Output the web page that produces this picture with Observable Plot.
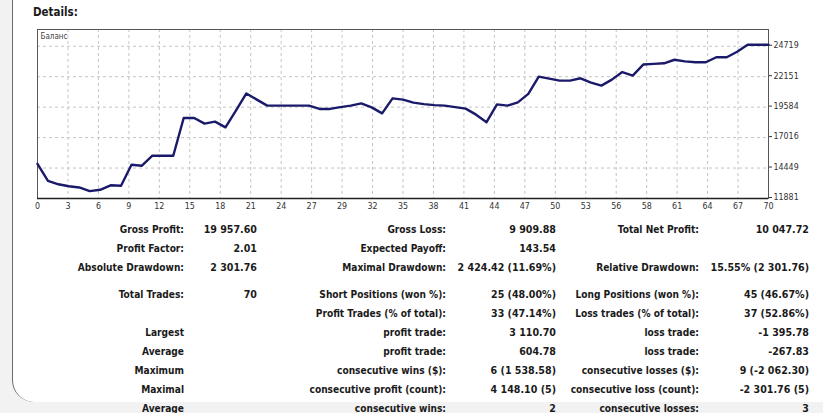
<!DOCTYPE html>
<html>
<head>
<meta charset="utf-8">
<script src="https://cdn.jsdelivr.net/npm/d3@7"></script>
<script src="https://cdn.jsdelivr.net/npm/@observablehq/plot@0.6"></script>
<style>
  html, body { margin: 0; padding: 0; }
  body { width: 823px; height: 413px; background: #f2f2f2; position: relative; overflow: hidden;
         font-family: "DejaVu Sans Condensed", "DejaVu Sans", sans-serif; color: #1a1a1a; }
  #card { position: absolute; left: 12px; top: -20px; width: 830px; height: 422px; background: #fff;
          border-left: 1px solid #6a6a6a; border-bottom-left-radius: 22px; }
  #title { position: absolute; left: 33px; top: 5px; font-weight: bold; font-size: 11.5px; }
  #chart { position: absolute; left: 0; top: 0; }
  .cell { position: absolute; font-weight: bold; font-size: 10.1px; white-space: nowrap; text-align: right;
          transform: translateY(-50%); }
  .cell.val { font-size: 10.6px; }
</style>
</head>
<body>
<div id="card"></div>
<div id="title">Details:</div>
<div id="chart"></div>
<div id="table"></div>
<script>
// ---- data ----
const seriesName = "Баланс";
const balance = [
  14802, 13376, 13080, 12911, 12810, 12500, 12616, 12996, 12954, 14727,
  14643, 15487, 15487, 15487, 18672, 18672, 18190, 18359, 17878, 19288,
  20739, 20217, 19710, 19710, 19710, 19710, 19710, 19432, 19432, 19584,
  19710, 19905, 19567, 19060, 20327, 20217, 19964, 19837, 19753, 19710,
  19584, 19457, 18950, 18315, 19820, 19710, 19989, 20699, 22160, 21991,
  21822, 21822, 22016, 21653, 21400, 21906, 22540, 22244, 23173, 23232,
  23283, 23579, 23444, 23368, 23368, 23790, 23790, 24254, 24850, 24850,
  24850
];
const xTickLabels = ["0","3","6","9","12","15","18","21","24","27","29","32","35","38","41","44","47","50","53","56","58","61","64","67","70"];
const yTickValues = [11881, 14449, 17016, 19584, 22151, 24719];

const col1Labels = ["Gross Profit:", "Profit Factor:", "Absolute Drawdown:", "Total Trades:", "", "Largest", "Average", "Maximum", "Maximal", "Average"];
const col1Values = ["19 957.60", "2.01", "2 301.76", "70", "", "", "", "", "", ""];
const col2Labels = ["Gross Loss:", "Expected Payoff:", "Maximal Drawdown:", "Short Positions (won %):", "Profit Trades (% of total):", "profit trade:", "profit trade:", "consecutive wins ($):", "consecutive profit (count):", "consecutive wins:"];
const col2Values = ["9 909.88", "143.54", "2 424.42 (11.69%)", "25 (48.00%)", "33 (47.14%)", "3 110.70", "604.78", "6 (1 538.58)", "4 148.10 (5)", "2"];
const col3Labels = ["Total Net Profit:", "", "Relative Drawdown:", "Long Positions (won %):", "Loss trades (% of total):", "loss trade:", "loss trade:", "consecutive losses ($):", "consecutive loss (count):", "consecutive losses:"];
const col3Values = ["10 047.72", "", "15.55% (2 301.76)", "45 (46.67%)", "37 (52.86%)", "-1 395.78", "-267.83", "9 (-2 062.30)", "-2 301.76 (5)", "3"];

// ---- chart ----
const nMax = balance.length - 1;
const xTickPos = xTickLabels.map((_, i) => i * nMax / (xTickLabels.length - 1));
const xLabelAt = new Map(xTickPos.map((p, i) => [p, xTickLabels[i]]));
const pts = balance.map((v, i) => ({i, v}));

const chart = Plot.plot({
  width: 823,
  height: 215,
  marginLeft: 37,
  marginRight: 55,
  marginTop: 29,
  marginBottom: 17,
  style: {fontFamily: "'DejaVu Sans Condensed', 'DejaVu Sans', sans-serif", background: "transparent", color: "#333"},
  x: {domain: [0, nMax]},
  y: {domain: [11881, 26130]},
  marks: [
    Plot.gridX(xTickPos, {stroke: "#c4c4c4", strokeOpacity: 1, strokeDasharray: "3,3"}),
    Plot.gridY(yTickValues, {stroke: "#c4c4c4", strokeOpacity: 1, strokeDasharray: "3,3"}),
    Plot.frame({stroke: "#555", strokeWidth: 1}),
    Plot.ruleY([11881], {stroke: "#222", strokeWidth: 1.5}),
    Plot.axisX(xTickPos, {tickSize: 0, tickPadding: 4, fontSize: 8.8, tickFormat: d => xLabelAt.get(d), label: null}),
    Plot.axisY(yTickValues, {anchor: "right", tickSize: 3, tickPadding: 2, fontSize: 8.8, label: null, tickFormat: d => String(d), dy: -1}),
    Plot.line(pts, {x: "i", y: "v", stroke: "#1b1a6a", strokeWidth: 2.4, strokeLinejoin: "round"}),
    Plot.text([seriesName], {frameAnchor: "top-left", dx: 3, dy: 4, fontSize: 8, fill: "#444", textAnchor: "start", lineAnchor: "top"})
  ]
});
document.getElementById("chart").append(chart);

// ---- table ----
const rowY = [229, 248, 267, 294, 313, 332, 351, 370, 389, 408];
const cols = [
  [col1Labels, 184, false], [col1Values, 257, true],
  [col2Labels, 446, false], [col2Values, 556, true],
  [col3Labels, 699, false], [col3Values, 809, true]
];
const table = document.getElementById("table");
cols.forEach(([texts, right, isVal]) => {
  texts.forEach((t, r) => {
    if (!t) return;
    const d = document.createElement("div");
    d.className = isVal ? "cell val" : "cell";
    d.textContent = t;
    d.style.right = (823 - right) + "px";
    d.style.top = rowY[r] + "px";
    table.append(d);
  });
});
</script>
</body>
</html>
